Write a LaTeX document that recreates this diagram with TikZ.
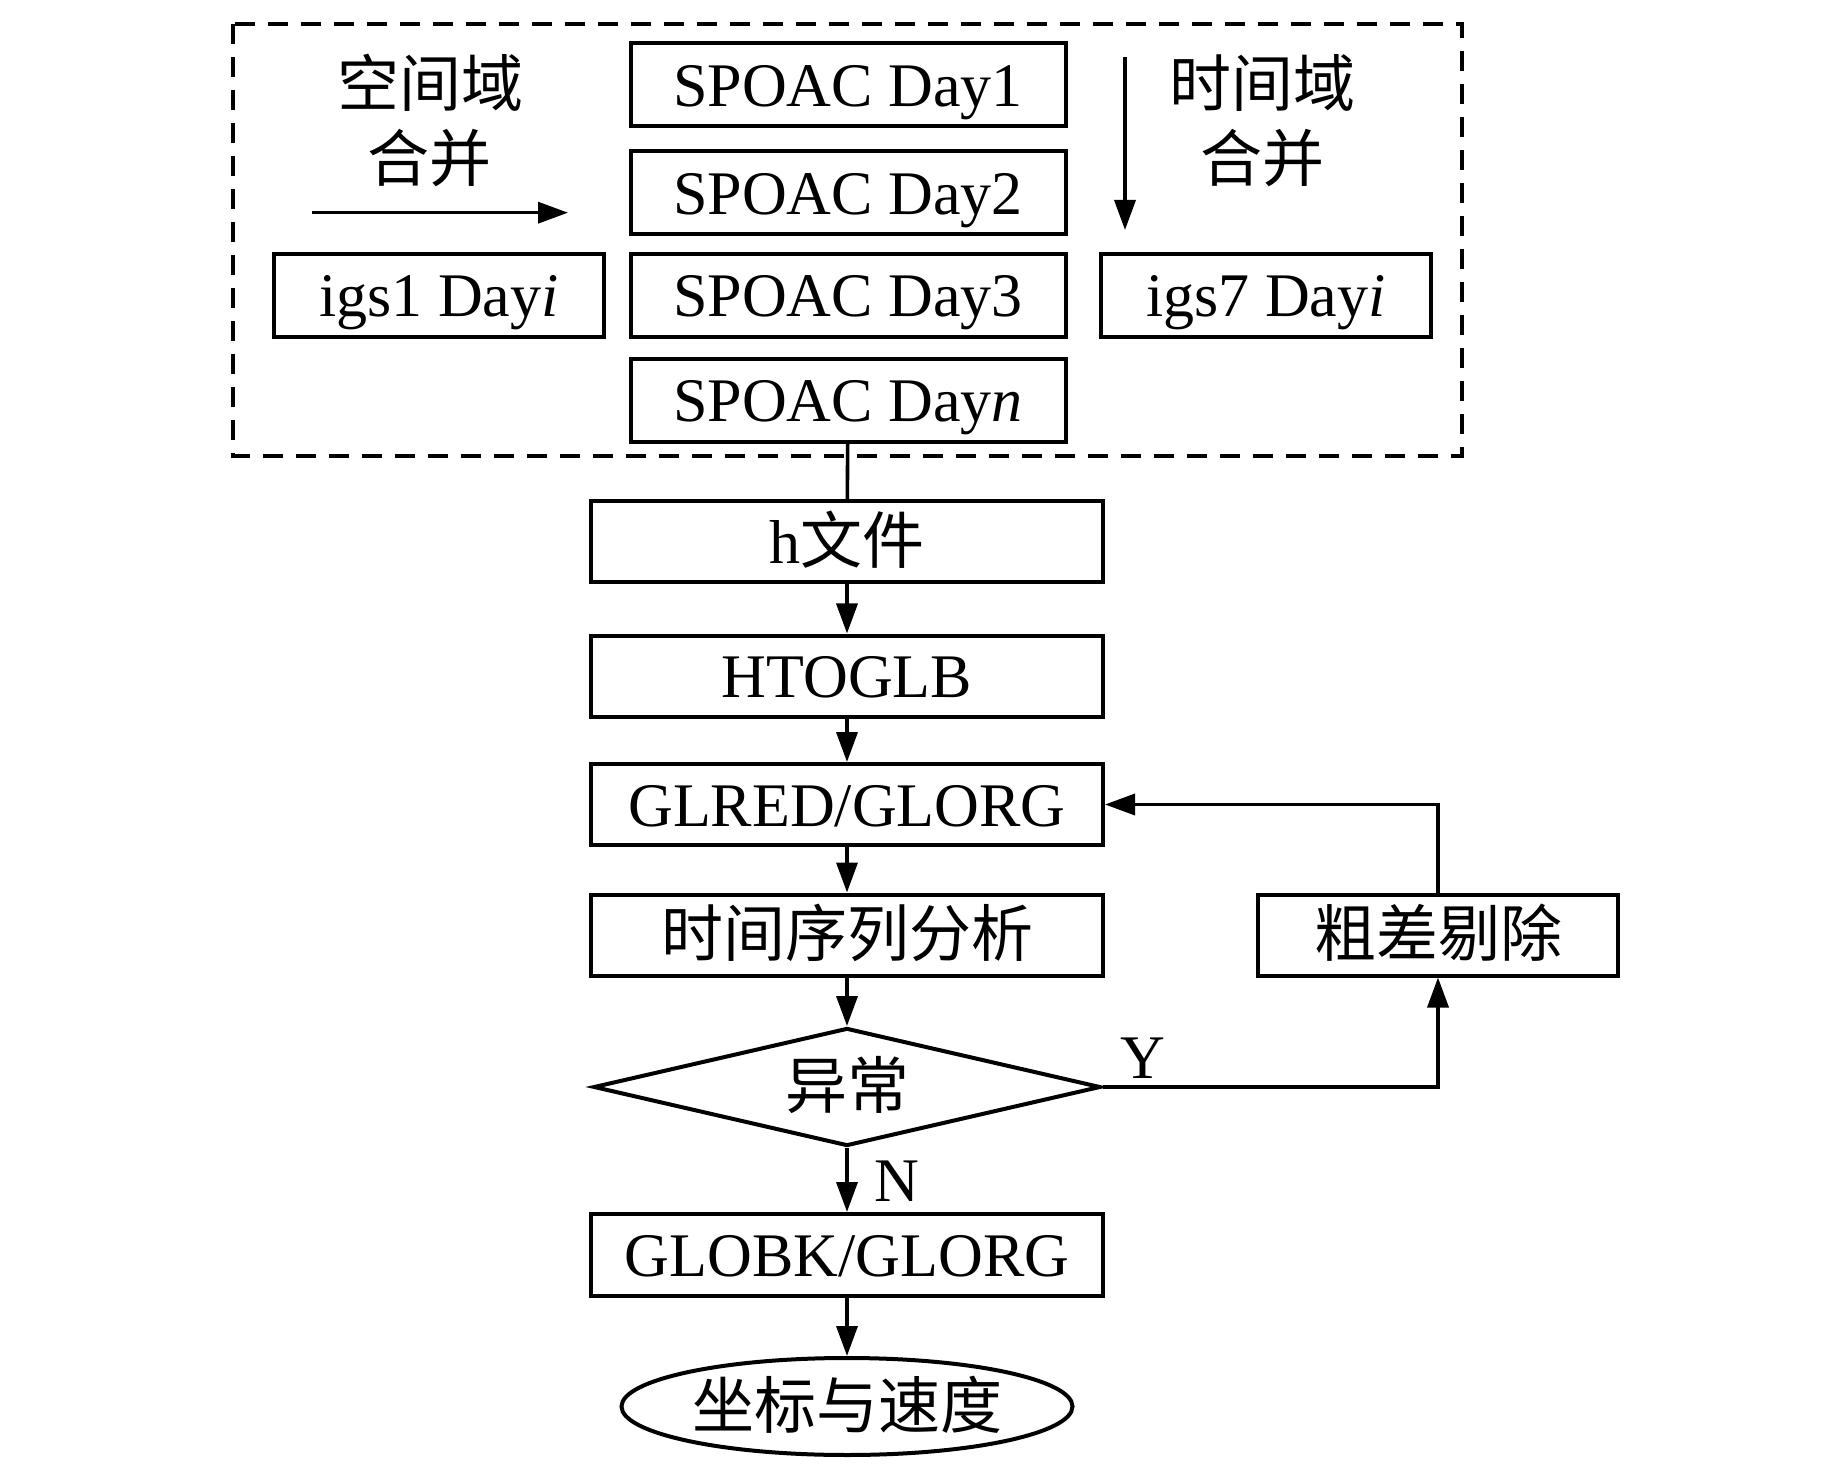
\documentclass[tikz,border=0pt]{standalone}
\usepackage{fontspec}
\setmainfont{Liberation Serif}
\newfontfamily\cjk{Noto Sans CJK SC}
\usetikzlibrary{arrows.meta,shapes.geometric}
\begin{document}
\begin{tikzpicture}[x=0.5pt,y=-0.5pt,
  txt/.style={font=\fontsize{31pt}{37pt}\selectfont, inner sep=0pt, text height=21.5pt, text depth=0pt},
  box/.style={txt, draw, line width=2pt, minimum height=41.5pt},
  dbox/.style={box, minimum width=217.5pt},
  wbox/.style={box, minimum width=256pt, minimum height=40.5pt},
  ibox/.style={box, minimum width=165pt},
  line/.style={line width=1.8pt},
  arr/.style={line, -{Triangle[length=15pt,width=10.5pt]}}]
\useasboundingbox (0,0) rectangle (1843,1465);
% dashed frame
\draw[line width=1.8pt, dash pattern=on 10pt off 6.5pt] (233,24) rectangle (1462,456);
% day boxes
\node[dbox] (d1) at (848,85) {SPOAC Day1};
\node[dbox] (d2) at (848,193) {SPOAC Day2};
\node[dbox] (d3) at (848,295.5) {SPOAC Day3};
\node[dbox] (dn) at (848,400.5) {SPOAC Day\textit{n}};
\node[ibox] (i1) at (439,295.5) {igs1 Day\textit{i}};
\node[ibox] (i7) at (1266,295.5) {igs7 Day\textit{i}};
% merge labels
\node[txt] (sp1) at (430,85) {\cjk 空间域};
\node[txt] (sp2) at (429,160) {\cjk 合并};
\node[txt] (tm1) at (1262,85) {\cjk 时间域};
\node[txt] (tm2) at (1262,160) {\cjk 合并};
\coordinate (ha) at (312,212.7);
\coordinate (hb) at (568,212.7);
\coordinate (va) at (1125,57);
\coordinate (vb) at (1125,230);
\draw[arr] (ha) -- (hb);
\draw[arr] (va) -- (vb);
% main flow
\node[wbox] (h) at (847,542) {h{\cjk 文件}};
\node[wbox] (hg) at (847,676) {HTOGLB};
\node[wbox] (gr) at (847,804.5) {GLRED/GLORG};
\node[wbox] (ts) at (847,935) {\cjk 时间序列分析};
\node[box, minimum width=180pt, minimum height=40.5pt] (gc) at (1438,935) {\cjk 粗差剔除};
\node[txt, draw, line width=2pt, diamond, aspect=4.3, minimum width=253.5pt, minimum height=59pt] (dm) at (847,1087) {\cjk 异常};
\node[wbox, minimum height=41pt] (gk) at (847,1255) {GLOBK/GLORG};
\node[txt, draw, line width=2pt, ellipse, minimum width=225.5pt, minimum height=48.5pt] (el) at (847,1406.5) {\cjk 坐标与速度};
\draw[line] (dn) -- (h);
\draw[arr] (h) -- (hg);
\draw[arr] (hg) -- (gr);
\draw[arr] (gr) -- (ts);
\draw[arr] (ts) -- (dm);
\draw[arr] (dm) -- (gk);
\draw[arr] (gk) -- (el);
\draw[arr] (dm.east) -| (gc.south);
\draw[arr] (gc.north) |- (gr.east);
\node[txt] (ylab) at (1143,1057) {Y};
\node[txt] (nlab) at (897,1180) {N};
\end{tikzpicture}
\end{document}
